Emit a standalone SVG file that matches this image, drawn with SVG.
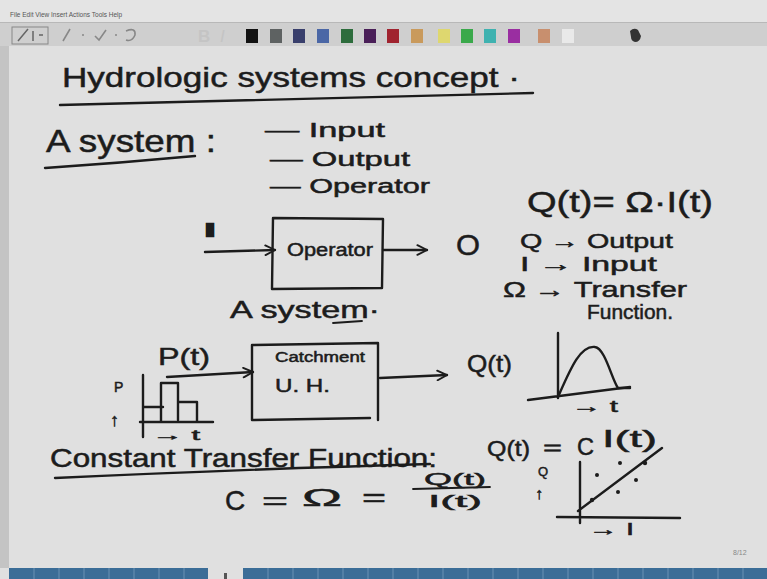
<svg xmlns="http://www.w3.org/2000/svg" width="767" height="579" viewBox="0 0 767 579">
<style>
.ink{fill:#1c1c1c;stroke:#1c1c1c;stroke-width:0.5;font-family:"Liberation Sans","DejaVu Sans",sans-serif;}
.ln{fill:none;stroke:#1c1c1c;stroke-width:2.4;stroke-linecap:round;stroke-linejoin:round;}
.thin{fill:none;stroke:#1c1c1c;stroke-width:1.8;stroke-linecap:round;}
.menu{fill:#555;font-family:"Liberation Sans",sans-serif;font-size:6.5px;}
.seg{stroke:#6a92b4;stroke-width:1;}
</style>
<defs>
<marker id="arr" viewBox="0 0 10 10" refX="9" refY="5" markerWidth="5" markerHeight="5" orient="auto" markerUnits="strokeWidth">
<path d="M1,1 L9,5 L1,9" fill="none" stroke="#1c1c1c" stroke-width="1.6" stroke-linecap="round"/>
</marker>
</defs>
<!-- page background -->
<rect x="0" y="0" width="767" height="579" fill="#e0e0e0"/>
<rect x="0" y="46" width="9" height="522" fill="#c4c4c4"/>
<!-- menu bar and toolbar -->
<g id="menubar">
<rect x="0" y="0" width="767" height="22" fill="#e4e4e4"/>
<text class="menu" x="10" y="17">File  Edit  View  Insert  Actions  Tools  Help</text>
</g>
<g id="toolbar">
<rect x="0" y="22" width="767" height="24" fill="#cfcfcf"/>
<line x1="0" y1="22.5" x2="767" y2="22.5" stroke="#b8b8b8"/>
<rect x="12" y="27" width="36" height="17" fill="none" stroke="#888" stroke-width="1"/>
<path d="M18 41 L28 29 M33 31 L33 41 M39 35 L43 35" stroke="#666" stroke-width="1.5" fill="none"/>
<path d="M63 41 L70 29 M82 35 L84 35 M95 36 L99 40 L106 30 M115 35 L117 35 M126 31 Q136 27 135 35 Q132 42 126 40" stroke="#888" stroke-width="1.6" fill="none"/>
<text x="198" y="42" font-family="Liberation Sans,sans-serif" font-size="17" font-weight="bold" fill="#c4c4c4">B</text>
<text x="220" y="42" font-family="Liberation Sans,sans-serif" font-size="17" font-style="italic" fill="#c4c4c4">I</text>
<rect x="246" y="29" width="12" height="14" fill="#121212"/>
<rect x="270" y="29" width="12" height="14" fill="#5e6262"/>
<rect x="293" y="29" width="12" height="14" fill="#393f6c"/>
<rect x="317" y="29" width="12" height="14" fill="#4b67a6"/>
<rect x="341" y="29" width="12" height="14" fill="#2d6c3c"/>
<rect x="364" y="29" width="12" height="14" fill="#4a1f58"/>
<rect x="387" y="29" width="12" height="14" fill="#a0232f"/>
<rect x="411" y="29" width="12" height="14" fill="#c99a5c"/>
<rect x="438" y="29" width="12" height="14" fill="#ded76f"/>
<rect x="461" y="29" width="12" height="14" fill="#3aa94b"/>
<rect x="484" y="29" width="12" height="14" fill="#3fb2b0"/>
<rect x="508" y="29" width="12" height="14" fill="#9a2ea1"/>
<rect x="538" y="29" width="12" height="14" fill="#c88f6e"/>
<rect x="562" y="29" width="12" height="14" fill="#e9e9e9"/>
<path d="M630 31 Q634 27 638 30 L641 36 Q640 42 635 42 Q631 41 631 37 Z" fill="#333"/>
</g>
<!-- title -->
<g id="title">
<text class="ink" x="62" y="87" font-size="28" textLength="458" lengthAdjust="spacingAndGlyphs">Hydrologic  systems  concept ·</text>
<path class="ln" d="M60 105 Q300 98 533 93"/>
</g>
<g id="system-def">
<text class="ink" x="46" y="152" font-size="32" textLength="170" lengthAdjust="spacingAndGlyphs">A system :</text>
<path class="ln" d="M45 168 Q120 163 195 156"/>
<text class="ink" x="265" y="137" font-size="20" textLength="120" lengthAdjust="spacingAndGlyphs">— Input</text>
<text class="ink" x="270" y="166" font-size="20" textLength="140" lengthAdjust="spacingAndGlyphs">— Output</text>
<text class="ink" x="270" y="193" font-size="20" textLength="160" lengthAdjust="spacingAndGlyphs">— Operator</text>
</g>
<!-- first system -->
<g id="input-I"><text class="ink" x="200" y="237" font-size="20" textLength="20" lengthAdjust="spacingAndGlyphs">I</text></g>
<g id="operator-box">
<path class="ln" d="M274 218 L383 219 L382 288 M273 218 L272 289 L382 288"/>
<text class="ink" x="287" y="256" font-size="18" textLength="86" lengthAdjust="spacingAndGlyphs">Operator</text>
</g>
<g id="output-O"><text class="ink" x="456" y="255" font-size="30" textLength="24" lengthAdjust="spacingAndGlyphs">O</text></g>
<g id="caption-system">
<text class="ink" x="230" y="318" font-size="24" textLength="150" lengthAdjust="spacingAndGlyphs">A system·</text>
<path class="thin" d="M333 323 L362 321"/>
</g>
<g id="equation1">
<text class="ink" x="527" y="212" font-size="30" textLength="186" lengthAdjust="spacingAndGlyphs">Q(t)= Ω·I(t)</text>
<text class="ink" x="520" y="248" font-size="20" textLength="153" lengthAdjust="spacingAndGlyphs">Q → Output</text>
<text class="ink" x="520" y="271" font-size="20" textLength="137" lengthAdjust="spacingAndGlyphs">I → Input</text>
<text class="ink" x="503" y="297" font-size="22" textLength="184" lengthAdjust="spacingAndGlyphs">Ω → Transfer</text>
<text class="ink" x="587" y="319" font-size="20" textLength="86" lengthAdjust="spacingAndGlyphs">Function.</text>
</g>
<!-- second system -->
<g id="hyetograph">
<text class="ink" x="158" y="365" font-size="24" textLength="52" lengthAdjust="spacingAndGlyphs">P(t)</text>
<text class="ink" x="114" y="392" font-size="14">P</text>
<text class="ink" x="110" y="426" font-size="18">↑</text>
<path class="ln" d="M143 375 L143 437 M140 422 L213 422 M144 407 L163 407 M161 383 L161 422 M161 383 L178 383 L178 420 M178 402 L197 402 L197 421"/>
<text class="ink" x="152" y="440" font-size="14" textLength="48" lengthAdjust="spacingAndGlyphs">→ t</text>
</g>
<g id="catchment-box">
<path class="ln" d="M252 345 L378 343 L378 420 M252 345 L252 420 L370 418"/>
<text class="ink" x="275" y="362" font-size="14" textLength="90" lengthAdjust="spacingAndGlyphs">Catchment</text>
<text class="ink" x="275" y="392" font-size="18" textLength="55" lengthAdjust="spacingAndGlyphs">U. H.</text>
</g>
<g id="output-Q"><text class="ink" x="467" y="372" font-size="24" textLength="45" lengthAdjust="spacingAndGlyphs">Q(t)</text></g>
<g id="hydrograph">
<path class="ln" d="M558 333 L558 398 M528 400 L630 387"/>
<path class="ln" d="M558 397 C570 370 580 345 595 347 C605 348 612 380 618 388 L630 388"/>
<text class="ink" x="572" y="412" font-size="16" textLength="46" lengthAdjust="spacingAndGlyphs">→ t</text>
</g>
<!-- constant transfer function -->
<g id="constant-tf">
<text class="ink" x="50" y="467" font-size="25" textLength="387" lengthAdjust="spacingAndGlyphs">Constant Transfer Function:</text>
<path class="ln" d="M55 478 Q250 469 430 464"/>
<text class="ink" x="225" y="510" font-size="28">C</text>
<text class="ink" x="262" y="509" font-size="24" textLength="26" lengthAdjust="spacingAndGlyphs">=</text>
<text class="ink" x="302" y="506" font-size="24" textLength="40" lengthAdjust="spacingAndGlyphs">Ω</text>
<text class="ink" x="362" y="506" font-size="26" textLength="24" lengthAdjust="spacingAndGlyphs">=</text>
<text class="ink" x="424" y="485" font-size="17" textLength="62" lengthAdjust="spacingAndGlyphs">Q(t)</text>
<path class="thin" d="M413 489 L490 487"/>
<text class="ink" x="428" y="507" font-size="17" textLength="54" lengthAdjust="spacingAndGlyphs">I(t)</text>
</g>
<g id="equation2">
<text class="ink" x="487" y="456" font-size="22" textLength="43" lengthAdjust="spacingAndGlyphs">Q(t)</text>
<text class="ink" x="543" y="455" font-size="20" textLength="19" lengthAdjust="spacingAndGlyphs">=</text>
<text class="ink" x="577" y="455" font-size="24" textLength="17" lengthAdjust="spacingAndGlyphs">C</text>
<text class="ink" x="602" y="447" font-size="24" textLength="55" lengthAdjust="spacingAndGlyphs">I(t)</text>
</g>
<g id="scatter-plot">
<text class="ink" x="538" y="476" font-size="13">Q</text>
<text class="ink" x="535" y="499" font-size="16">↑</text>
<path class="ln" d="M580 462 L580 523 M557 517 L680 518 M578 511 L662 448"/>
<g fill="#1c1c1c"><circle cx="597" cy="475" r="2"/><circle cx="620" cy="463" r="2"/><circle cx="645" cy="463" r="2.2"/><circle cx="592" cy="500" r="2.2"/><circle cx="618" cy="492" r="2"/><circle cx="636" cy="480" r="2"/></g>
<text class="ink" x="589" y="535" font-size="16" textLength="45" lengthAdjust="spacingAndGlyphs">→ I</text>
</g>
<!-- connectors -->
<g id="connectors">
<path class="ln" d="M205 252 L275 250" marker-end="url(#arr)"/>
<path class="ln" d="M383 250 L427 250" marker-end="url(#arr)"/>
<path class="ln" d="M167 377 L253 372" marker-end="url(#arr)"/>
<path class="ln" d="M380 378 L447 375" marker-end="url(#arr)"/>
</g>
<g id="footer">
<text x="733" y="555" font-family="Liberation Sans,sans-serif" font-size="7" fill="#888">8/12</text>
<rect x="9" y="568" width="199" height="11" fill="#3b6d97"/>
<rect x="243" y="568" width="524" height="11" fill="#3b6d97"/>
<path class="seg" d="M34 568 V579 M59 568 V579 M84 568 V579 M109 568 V579 M134 568 V579 M159 568 V579 M184 568 V579 M268 568 V579 M293 568 V579 M318 568 V579 M343 568 V579 M368 568 V579 M393 568 V579 M418 568 V579 M443 568 V579 M468 568 V579 M493 568 V579 M518 568 V579 M543 568 V579 M568 568 V579 M593 568 V579 M618 568 V579 M643 568 V579 M668 568 V579 M693 568 V579 M718 568 V579 M743 568 V579"/>
<rect x="224" y="573" width="3" height="6" fill="#555"/>
</g>
</svg>
